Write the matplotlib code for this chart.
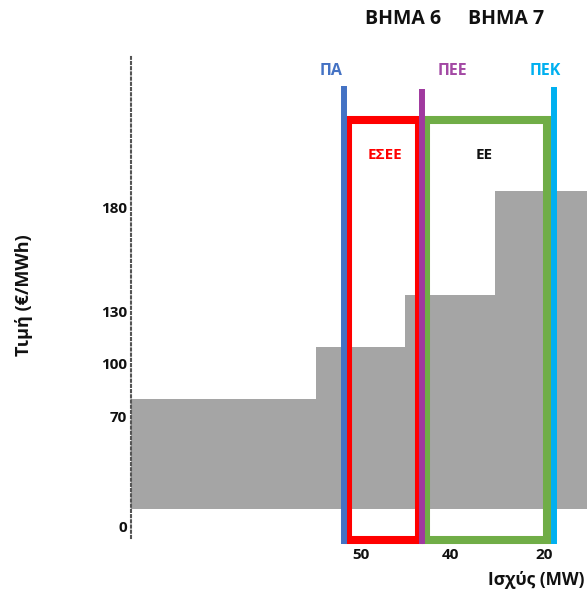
import matplotlib
matplotlib.use("Agg")
import matplotlib.pyplot as plt
from matplotlib.patches import Rectangle

plt.rcParams['font.family'] = ['Open Sans', 'DejaVu Sans']
plt.rcParams['font.weight'] = 'bold'

# ---- data (schematic bid curve, capacity in MW on a reversed axis) ----
step_edges_mw = [88, 57.6, 42.9, 28.1, 13]      # left edge of each price step
step_prices = [70, 100, 130, 190]               # €/MWh
price_floor = 6.5                               # bottom of the shaded area

marker_names = ["ΠΑ", "ΠΕΕ", "ΠΕΚ"]
marker_mw = [53.0, 40.2, 18.4]
marker_top = [250.8, 248.9, 250.0]

box_names = ["ΕΣΕΕ", "ΕΕ"]
box_left_mw = [52.3, 39.5]
box_right_mw = [40.6, 19.5]
box_bottom = -11.0
box_top = 231.0

xtick_labels = ["50", "40", "20"]
ytick_labels = ["0", "70", "100", "130", "180"]
step_titles = ["ΒΗΜΑ 6", "ΒΗΜΑ 7"]

# ---- figure ----
W, H = 587, 594
fig = plt.figure(figsize=(W / 100, H / 100), dpi=100)
ax = fig.add_axes([131 / W, (H - 538) / H, (587 - 131) / W, (538 - 57) / H])
ax.set_xlim(88, 13)
ax.set_ylim(-10.0, 267.5)

# shaded price curve
xs = step_edges_mw
ys = step_prices + [step_prices[-1]]
ax.fill_between(xs, price_floor, ys, step='post', color='#A5A5A5', lw=0, zorder=1)

# boxes
box_colors = ['#FF0000', '#70AD47']
for l, r, c in zip(box_left_mw, box_right_mw, box_colors):
    ax.add_patch(Rectangle((l, box_bottom), r - l, box_top - box_bottom,
                           fill=False, edgecolor=c, lw=5.8, clip_on=False,
                           joinstyle='miter', zorder=3))

# vertical marker lines
marker_colors = ['#4472C4', '#A0399F', '#00B0F0']
for m, t, c in zip(marker_mw, marker_top, marker_colors):
    ax.plot([m, m], [-13.7, t], color=c, lw=4.3, solid_capstyle='butt',
            clip_on=False, zorder=4)

# axes styling
for s in ['top', 'right', 'bottom']:
    ax.spines[s].set_visible(False)
ax.spines['left'].set_linestyle((0, (1, 1.5)))
ax.spines['left'].set_linewidth(1.5)
ax.spines['left'].set_color('#555555')

ax.set_xticks([50.2, 35.4, 20.1])
ax.set_xticklabels(xtick_labels)
ax.set_yticks([-3.1, 60.2, 90.7, 120.4, 180.9])
ax.set_yticklabels(ytick_labels)
ax.tick_params(axis='both', length=0, labelsize=11)
ax.tick_params(axis='x', pad=7)
ax.tick_params(axis='y', pad=3)
for lab in ax.get_xticklabels() + ax.get_yticklabels():
    lab.set_fontweight('bold')
    lab.set_color('#111111')

def ftext(x, y, s, **kw):
    fig.text(x / W, 1 - y / H, s, ha='center', va='center', fontweight='bold', **kw)

# titles
ftext(403, 19, step_titles[0], fontsize=14, color='#111111')
ftext(506, 19, step_titles[1], fontsize=14, color='#111111')

# marker labels
label_x = [331, 452, 545]
for name, lx, c in zip(marker_names, label_x, ['#4472C4', '#A349A4', '#00B0F0']):
    ftext(lx, 71, name, fontsize=11.5, color=c)

# box labels
ftext(385, 155, box_names[0], fontsize=11, color='#FF0000')
ftext(484, 155, box_names[1], fontsize=11, color='#111111')

# axis labels
fig.text(585 / W, 1 - 580 / H, "Ισχύς (MW)", ha='right', va='center',
         fontsize=12.5, fontweight='bold', color='#111111')
fig.text(24 / W, 1 - 295 / H, "Τιμή (€/MWh)", ha='center', va='center',
         rotation=90, fontsize=13, fontweight='bold', color='#111111')

fig.savefig("out.png", dpi=100)
